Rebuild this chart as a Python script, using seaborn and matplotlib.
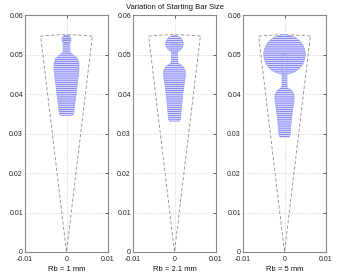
import numpy as np
import pandas as pd
import matplotlib
matplotlib.use("Agg")
import matplotlib.pyplot as plt
from matplotlib.patches import Circle, Wedge
import seaborn as sns

# ---- data ----
labels = ["Rb = 1 mm", "Rb = 2.1 mm", "Rb = 5 mm"]
head_radius = [0.0011, 0.0021, 0.0050]
head_center = [0.0538, 0.0527, 0.0500]

body1_z = [0.0345, 0.0349, 0.0400, 0.0460, 0.0478, 0.0490, 0.0500, 0.0506, 0.0538]
body1_r = [0.0012, 0.0017, 0.0023, 0.0030, 0.0030, 0.0026, 0.0015, 0.0008, 0.0008]
body2_z = [0.0330, 0.0335, 0.0400, 0.0445, 0.0460, 0.0470, 0.0477, 0.0482, 0.0527]
body2_r = [0.0010, 0.0014, 0.0020, 0.0026, 0.0026, 0.0020, 0.0010, 0.0007, 0.0007]
body3_z = [0.0290, 0.0295, 0.0340, 0.0385, 0.0398, 0.0408, 0.0415, 0.0420, 0.0500]
body3_r = [0.0010, 0.0013, 0.0017, 0.0023, 0.0023, 0.0018, 0.0009, 0.0006, 0.0006]
bodies_z = [body1_z, body2_z, body3_z]
bodies_r = [body1_r, body2_r, body3_r]

wedge_radius = 0.055
wedge_half_angle = 6.5  # degrees

x_ticks = [-0.01, 0, 0.01]
x_ticklabels = ["-0.01", "0", "0.01"]
y_ticks = [0, 0.01, 0.02, 0.03, 0.04, 0.05, 0.06]
y_ticklabels = ["0", "0.01", "0.02", "0.03", "0.04", "0.05", "0.06"]
title = "Variation of Starting Bar Size"

# ---- style ----
sns.set_style("white")
plt.rcParams["font.family"] = ["Liberation Sans", "DejaVu Sans"]
plt.rcParams["hatch.linewidth"] = 0.5
plt.rcParams["hatch.color"] = "#6464ee"

W, H = 350, 277
fig = plt.figure(figsize=(W / 100, H / 100), dpi=100)
lefts = [25, 133, 243]
ax_w = 83
bottom_px, top_px = 252, 15

face = "#dcdcff"
edge = "#9aa8e8"

for i in range(3):
    ax = fig.add_axes([lefts[i] / W, (H - bottom_px) / H, ax_w / W, (bottom_px - top_px) / H])
    ax.set_xlim(-0.01, 0.01)
    ax.set_ylim(0, 0.06)
    ax.set_xticks(x_ticks)
    ax.set_xticklabels(x_ticklabels)
    ax.set_yticks(y_ticks)
    ax.set_yticklabels(y_ticklabels)
    ax.tick_params(direction="in", length=2, width=0.5, labelsize=5, pad=1.5,
                   colors="#222222", top=True, right=True)
    ax.tick_params(axis="x", pad=3)
    ax.grid(True, linestyle=":", color="#c8c8c8", linewidth=0.6)
    for s in ax.spines.values():
        s.set_color("#8a8a8a")
        s.set_linewidth(0.8)
    ax.set_xlabel(labels[i], fontsize=5.5, labelpad=2, color="#111111")

    # dashed envelope
    wdg = Wedge((0, 0), wedge_radius, 90 - wedge_half_angle, 90 + wedge_half_angle,
                fill=False, linestyle=(0, (4, 2.5)), edgecolor="#8c8c8c", linewidth=0.6, zorder=2)
    ax.add_patch(wdg)

    z = np.array(bodies_z[i])
    r = np.array(bodies_r[i])
    ax.fill_betweenx(z, -r, r, facecolor=face, edgecolor="#6464ee", hatch="--------",
                     linewidth=0, zorder=3)
    df = pd.DataFrame({"x": np.concatenate([-r, r[::-1]]), "z": np.concatenate([z, z[::-1]])})
    sns.lineplot(data=df, x="x", y="z", sort=False, estimator=None, ax=ax,
                 color=edge, linewidth=0.5, zorder=4)
    circ = Circle((0, head_center[i]), head_radius[i], facecolor=face, edgecolor="#6464ee",
                  hatch="--------", linewidth=0, zorder=3)
    ax.add_patch(circ)
    circ2 = Circle((0, head_center[i]), head_radius[i], fill=False, edgecolor=edge,
                   linewidth=0.5, zorder=4)
    ax.add_patch(circ2)
    ax.set_ylabel("")
    if i == 1:
        ax.set_title(title, fontsize=5.5, pad=4, color="#111111")

fig.savefig("out.png", dpi=100)
